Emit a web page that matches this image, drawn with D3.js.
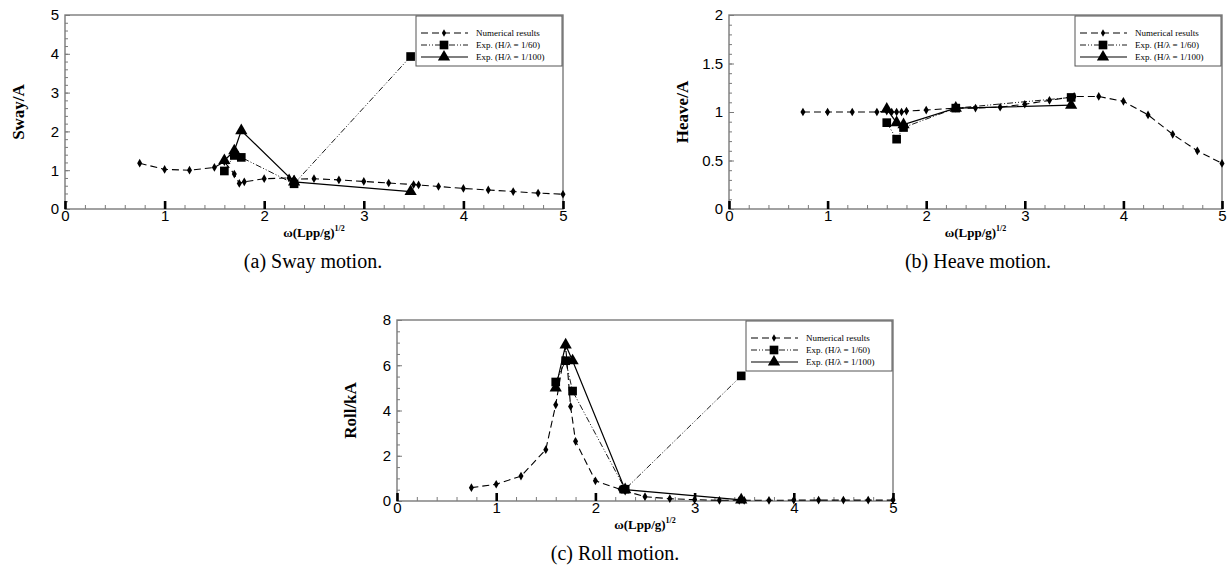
<!DOCTYPE html>
<html>
<head>
<meta charset="utf-8">
<script src="https://cdn.jsdelivr.net/npm/d3@7"></script>
<style>
  body { margin: 0; background: #fff; }
  .tick text { font-family: "Liberation Sans", Arial, sans-serif; font-size: 15px; fill: #000; }
  .domain { display: none; }
</style>
</head>
<body>
<svg id="fig" width="1229" height="571"></svg>
<script>
// experiment frequencies, shared by the three motions
var expX = [1.6, 1.7, 1.77, 2.3, 3.47];

// sway
var swayNumX = [0.75, 1, 1.25, 1.5, 1.6, 1.7, 1.75, 1.8, 2, 2.25, 2.3, 2.5, 2.75, 3, 3.25, 3.5, 3.55, 3.75, 4, 4.25, 4.5, 4.75, 5];
var swayNum  = [1.18, 1.02, 1.0, 1.07, 1.22, 0.9, 0.66, 0.7, 0.78, 0.8, 0.77, 0.78, 0.75, 0.71, 0.67, 0.63, 0.62, 0.58, 0.53, 0.49, 0.45, 0.41, 0.38];
var sway60   = [0.98, 1.38, 1.33, 0.65, 3.93];
var sway100  = [1.25, 1.5, 2.02, 0.7, 0.45];

// heave
var heaveNumX = [0.75, 1, 1.25, 1.5, 1.6, 1.65, 1.7, 1.75, 1.8, 2, 2.3, 2.5, 2.75, 3, 3.25, 3.5, 3.75, 4, 4.25, 4.5, 4.75, 5];
var heaveNum  = [1.0, 1.0, 1.0, 1.0, 1.01, 1.0, 1.0, 1.0, 1.01, 1.02, 1.04, 1.04, 1.05, 1.08, 1.12, 1.16, 1.16, 1.11, 0.97, 0.77, 0.6, 0.47];
var heave60   = [0.89, 0.72, 0.84, 1.04, 1.15];
var heave100  = [1.03, 0.89, 0.87, 1.04, 1.07];

// roll
var rollNumX = [0.75, 1, 1.25, 1.5, 1.6, 1.7, 1.75, 1.8, 2, 2.25, 2.3, 2.5, 2.75, 3, 3.25, 3.45, 3.5, 3.75, 4, 4.25, 4.5, 4.75, 5];
var rollNum  = [0.59, 0.74, 1.1, 2.27, 4.25, 6.85, 4.18, 2.64, 0.89, 0.52, 0.44, 0.19, 0.1, 0.06, 0.03, 0.03, 0.03, 0.03, 0.04, 0.04, 0.04, 0.04, 0.04];
var roll60   = [5.26, 6.2, 4.86, 0.52, 5.53];
var roll100  = [5.0, 6.9, 6.2, 0.5, 0.05];

var xTicks = [0, 1, 2, 3, 4, 5];
var legendLabels = ["Numerical results", "Exp. (H/\u03bb = 1/60)", "Exp. (H/\u03bb = 1/100)"];

var panels = [
  {left: 65, right: 563, top: 15, bottom: 209, yMax: 5, yStep: 1, yMinor: 0.2,
   ylabel: "Sway/A", caption: "(a) Sway motion.", capX: 313,
   numX: swayNumX, num: swayNum, e60: sway60, e100: sway100},
  {left: 729, right: 1222, top: 15, bottom: 209, yMax: 2, yStep: 0.5, yMinor: 0.1,
   ylabel: "Heave/A", caption: "(b) Heave motion.", capX: 978,
   numX: heaveNumX, num: heaveNum, e60: heave60, e100: heave100},
  {left: 397, right: 893, top: 320, bottom: 501, yMax: 8, yStep: 2, yMinor: 0.5,
   ylabel: "Roll/kA", caption: "(c) Roll motion.", capX: 615,
   numX: rollNumX, num: rollNum, e60: roll60, e100: roll100}
];

var svg = d3.select("#fig");
var serif = "'Liberation Serif', 'Times New Roman', serif";

var styles = [
  {dash: "7,4", width: 1.1, symbol: d3.symbolDiamond, size: 22},
  {dash: "6,2,1,2,1,2", width: 0.9, symbol: d3.symbolSquare, size: 75},
  {dash: null, width: 1.2, symbol: d3.symbolTriangle, size: 65}
];

function drawSeries(g, xs, ys, st, x, y) {
  var pts = xs.map(function(v, i) { return [v, ys[i]]; });
  g.append("path")
    .datum(pts)
    .attr("fill", "none")
    .attr("stroke", "#000")
    .attr("stroke-width", st.width)
    .attr("stroke-dasharray", st.dash)
    .attr("d", d3.line().x(function(d) { return x(d[0]); }).y(function(d) { return y(d[1]); }));
  g.selectAll(null)
    .data(pts)
    .enter().append("path")
    .attr("transform", function(d) { return "translate(" + x(d[0]) + "," + y(d[1]) + ")"; })
    .attr("d", d3.symbol().type(st.symbol).size(st.size))
    .attr("fill", "#000");
}

panels.forEach(function(p) {
  var x = d3.scaleLinear().domain([0, 5]).range([p.left, p.right]);
  var y = d3.scaleLinear().domain([0, p.yMax]).range([p.bottom, p.top]);
  var g = svg.append("g");

  // frame
  g.append("rect")
    .attr("x", p.left).attr("y", p.top)
    .attr("width", p.right - p.left).attr("height", p.bottom - p.top)
    .attr("fill", "none").attr("stroke", "#7a7a7a").attr("stroke-width", 1.4);

  // y minor + major ticks (inside)
  g.append("g")
    .attr("transform", "translate(" + p.left + ",0)")
    .call(d3.axisLeft(y).tickValues(d3.range(0, p.yMax + 1e-9, p.yMinor)).tickSize(-3).tickFormat(""))
    .selectAll("line").attr("stroke", "#7a7a7a");
  var yTicks = d3.range(0, p.yMax + 1e-9, p.yStep);
  g.append("g")
    .attr("transform", "translate(" + p.left + ",0)")
    .call(d3.axisLeft(y).tickValues(yTicks).tickSize(-5).tickPadding(6).tickFormat(d3.format("~g")))
    .selectAll("line").attr("stroke", "#7a7a7a");

  // x minor ticks, then heavy major ticks
  g.append("g")
    .attr("transform", "translate(0," + p.bottom + ")")
    .call(d3.axisBottom(x).tickValues(d3.range(0, 5.0001, 0.2)).tickSize(-4).tickFormat(""))
    .selectAll("line").attr("stroke", "#7a7a7a");
  var xa = g.append("g")
    .attr("transform", "translate(0," + p.bottom + ")")
    .call(d3.axisBottom(x).tickValues(xTicks).tickSize(-8).tickPadding(1).tickFormat(d3.format("d")));
  xa.selectAll("line").attr("stroke", "#000").attr("stroke-width", 2.6);

  // axis titles
  g.append("text")
    .attr("transform", "translate(" + (p.left - 47) + "," + ((p.top + p.bottom) / 2) + ") rotate(-90)")
    .attr("text-anchor", "middle")
    .attr("dy", "0.35em")
    .style("font-family", serif).style("font-weight", "bold").style("font-size", "17px")
    .text(p.ylabel);

  var xt = g.append("text")
    .attr("x", (p.left + p.right) / 2)
    .attr("y", p.bottom + 28)
    .attr("text-anchor", "middle")
    .style("font-family", serif).style("font-weight", "bold").style("font-size", "13px");
  xt.append("tspan").text("\u03c9(Lpp/g)");
  xt.append("tspan").attr("dy", -6).style("font-size", "8px").text("1/2");

  g.append("text")
    .attr("x", p.capX)
    .attr("y", p.bottom + 59)
    .attr("text-anchor", "middle")
    .style("font-family", serif).style("font-size", "20px")
    .text(p.caption);

  // series
  drawSeries(g, p.numX, p.num, styles[0], x, y);
  drawSeries(g, expX, p.e60, styles[1], x, y);
  drawSeries(g, expX, p.e100, styles[2], x, y);

  // legend
  var lx = p.right - 147, ly = p.top + 1;
  var lg = g.append("g").attr("transform", "translate(" + lx + "," + ly + ")");
  lg.append("rect")
    .attr("width", 146).attr("height", 50)
    .attr("fill", "#fff").attr("stroke", "#555").attr("stroke-width", 1);
  legendLabels.forEach(function(lab, i) {
    var st = styles[i], ry = 17 + i * 12;
    lg.append("line")
      .attr("x1", 5).attr("x2", 52).attr("y1", ry).attr("y2", ry)
      .attr("stroke", "#000").attr("stroke-width", st.width)
      .attr("stroke-dasharray", st.dash);
    lg.append("path")
      .attr("transform", "translate(28," + ry + ")")
      .attr("d", d3.symbol().type(st.symbol).size(i === 0 ? 16 : st.size))
      .attr("fill", "#000");
    lg.append("text")
      .attr("x", 60).attr("y", ry).attr("dy", "0.33em")
      .style("font-family", serif).style("font-size", "9px")
      .text(lab);
  });
});
</script>
</body>
</html>
